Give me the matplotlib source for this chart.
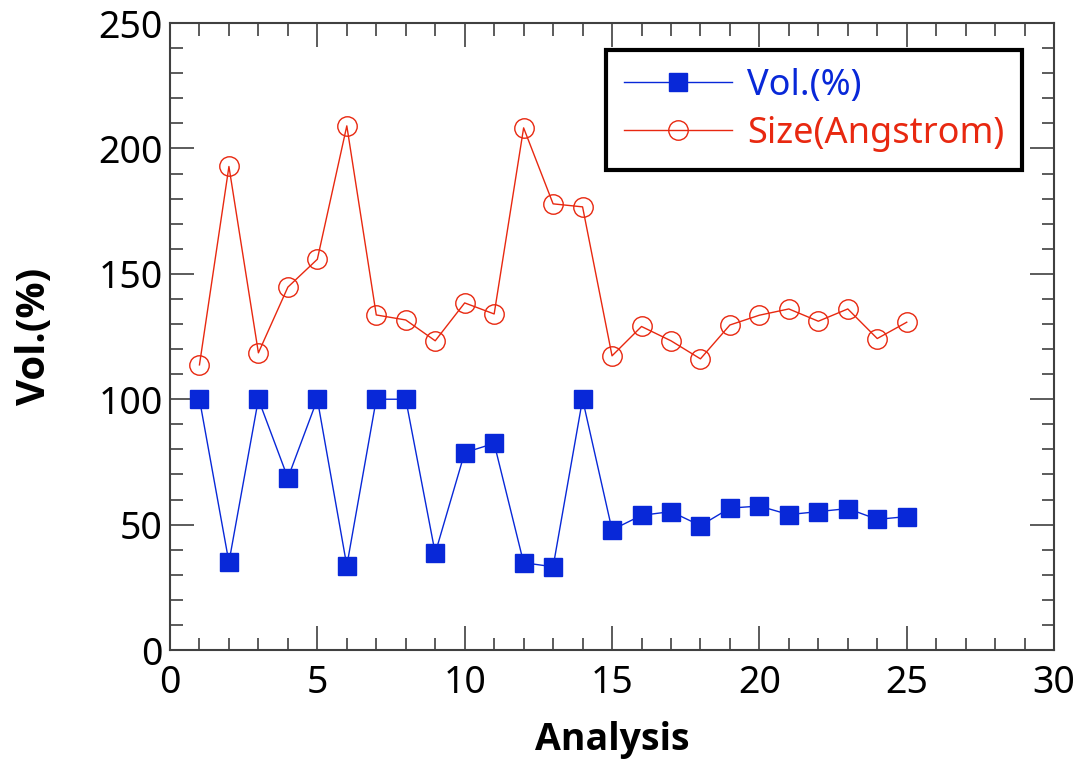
import matplotlib
matplotlib.use("Agg")
import matplotlib.pyplot as plt
from matplotlib.ticker import MultipleLocator

# data
analysis = list(range(1, 26))
vol_pct = [100, 35.0, 100, 68.6, 100, 33.6, 100, 100, 38.6, 78.7,
           82.4, 34.8, 33.2, 100, 47.9, 53.7, 55.2, 49.6, 56.6, 57.4,
           54.0, 55.2, 56.4, 52.1, 53.2]
size_ang = [113.7, 192.8, 118.5, 144.7, 155.8, 209.0, 133.6, 131.6, 123.3, 138.4,
            134.0, 208.2, 177.9, 176.7, 117.3, 129.0, 123.3, 116.1, 129.6, 133.5,
            136.0, 131.1, 136.0, 124.2, 130.7]

BLUE = "#0828d8"
RED = "#e82810"

plt.rcParams['font.family'] = ['Noto Sans', 'DejaVu Sans']
LABEL_FONT = ['Open Sans', 'DejaVu Sans']

fig = plt.figure(figsize=(10.8, 7.6), dpi=100)
ax = fig.add_axes([0.1574, 0.1447, 0.8186, 0.825])

ax.plot(analysis, vol_pct, color=BLUE, lw=1.0, marker='s', markersize=13,
        markerfacecolor=BLUE, markeredgecolor=BLUE, label='Vol.(%)')
ax.plot(analysis, size_ang, color=RED, lw=1.0, marker='o', markersize=14,
        markerfacecolor='none', markeredgecolor=RED, markeredgewidth=1.0,
        label='Size(Angstrom)')

ax.set_xlim(0, 30)
ax.set_ylim(0, 250)
ax.xaxis.set_major_locator(MultipleLocator(5))
ax.xaxis.set_minor_locator(MultipleLocator(1))
ax.yaxis.set_major_locator(MultipleLocator(50))
ax.yaxis.set_minor_locator(MultipleLocator(10))
ax.tick_params(which='both', direction='in', top=True, right=True,
               color='#404040', width=1.2)
ax.tick_params(which='major', length=17, labelsize=27)
ax.tick_params(axis='x', which='major', pad=10)
ax.tick_params(axis='y', which='major', pad=5)
ax.tick_params(which='minor', length=9)
for s in ax.spines.values():
    s.set_color('#404040')
    s.set_linewidth(1.5)

ax.set_xlabel('Analysis', fontsize=27, fontweight='bold', family=LABEL_FONT,
              labelpad=14)
ax.set_ylabel('Vol.(%)', fontsize=29, fontweight='bold', family=LABEL_FONT,
              labelpad=32)

leg = ax.legend(loc='upper right', bbox_to_anchor=(0.9638, 0.957), fontsize=26,
                frameon=True, fancybox=False, edgecolor='black', framealpha=1,
                handlelength=3.0, handletextpad=0.4, borderpad=0.5,
                labelspacing=0.32, borderaxespad=0)
leg.get_frame().set_linewidth(3)
for txt, c in zip(leg.get_texts(), [BLUE, RED]):
    txt.set_color(c)

fig.savefig('out.png', dpi=100)
